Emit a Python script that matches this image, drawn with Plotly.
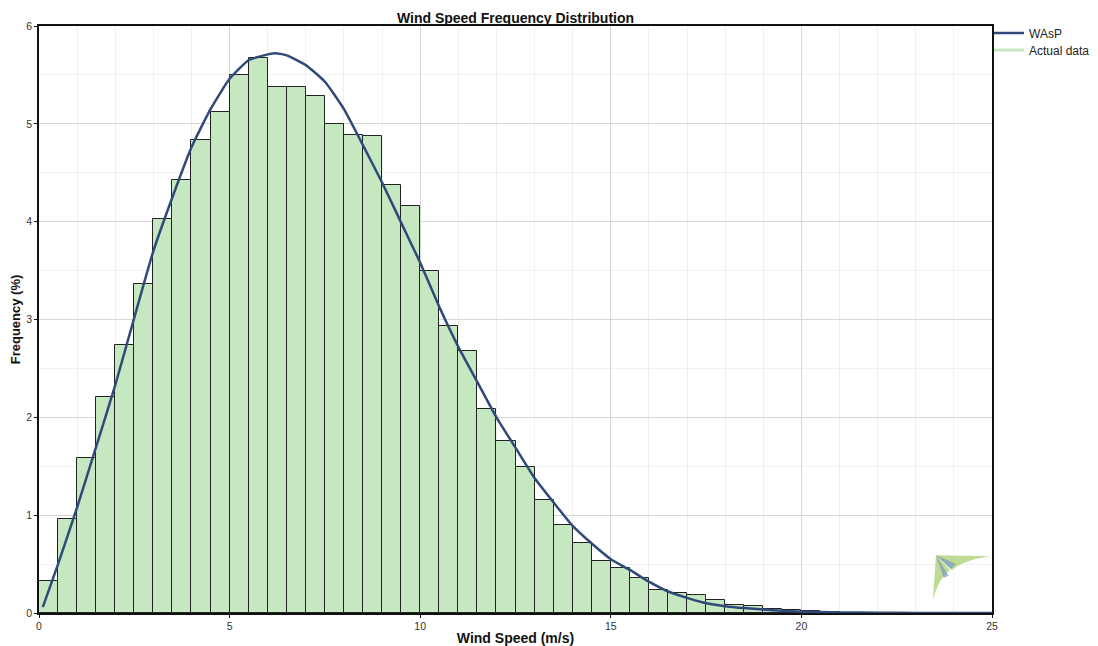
import plotly.graph_objects as go

# ---- data ----
bin_width = 0.5
bin_start = [i * bin_width for i in range(42)]  # 0.0 .. 20.5
actual_freq = [0.33, 0.965, 1.585, 2.21, 2.74, 3.36, 4.03, 4.43, 4.83, 5.12,
               5.50, 5.67, 5.38, 5.38, 5.28, 5.00, 4.89, 4.88, 4.37, 4.16,
               3.50, 2.93, 2.68, 2.09, 1.755, 1.49, 1.16, 0.90, 0.715, 0.53,
               0.46, 0.355, 0.24, 0.205, 0.18, 0.133, 0.085, 0.068, 0.044, 0.034,
               0.02, 0.01]

wasp_x = [0.1, 0.5, 1.0, 1.5, 2.0, 2.5, 3.0, 3.5, 4.0, 4.5, 5.0, 5.5, 6.0, 6.25,
          6.5, 7.0, 7.5, 8.0, 8.5, 9.0, 9.5, 10.0, 10.5, 11.0, 11.5, 12.0, 12.5,
          13.0, 13.5, 14.0, 14.5, 15.0, 15.5, 16.0, 16.5, 17.0, 17.5, 18.0, 18.5,
          19.0, 19.5, 20.0, 21.0, 22.0, 23.0, 24.0, 25.0]
wasp_y = [0.06, 0.50, 1.08, 1.70, 2.33, 3.02, 3.70, 4.25, 4.76, 5.15, 5.46, 5.65, 5.71, 5.72,
          5.70, 5.60, 5.43, 5.15, 4.78, 4.40, 3.99, 3.58, 3.13, 2.72, 2.36, 2.00, 1.69,
          1.38, 1.13, 0.89, 0.71, 0.55, 0.44, 0.32, 0.22, 0.155, 0.10, 0.07, 0.05,
          0.035, 0.022, 0.014, 0.006, 0.003, 0.001, 0.0, 0.0]

x_ticks = [0, 5, 10, 15, 20, 25]
y_ticks = [0, 1, 2, 3, 4, 5, 6]

FONT = "Liberation Sans, Arial, sans-serif"
GREEN = "#c6e8c0"
BLUE = "#2f4a7a"

fig = go.Figure()

fig.add_trace(go.Bar(
    x=[s + bin_width / 2 for s in bin_start],
    y=actual_freq,
    width=bin_width,
    marker=dict(color=GREEN, line=dict(color="#222222", width=1)),
    name="Actual data",
    showlegend=False,
))

fig.add_trace(go.Scatter(
    x=wasp_x, y=wasp_y, mode="lines", name="WAsP",
    line=dict(color=BLUE, width=2.5, shape="spline", smoothing=0.5),
    legend="legend",
))

# legend entry for the bars drawn as a line swatch, like the reference
fig.add_trace(go.Scatter(
    x=[None], y=[None], mode="lines", name="Actual data",
    line=dict(color=GREEN, width=3),
    legend="legend2",
))

# small decorative logo in the lower right corner
logo_paths = [
    ("M 23.53 0.59 L 24.98 0.58 Q 24.3 0.55 23.95 0.44 Z", "rgba(170,205,110,0.75)"),
    ("M 23.53 0.59 L 23.45 0.13 Q 23.6 0.36 23.9 0.44 Z", "rgba(170,205,110,0.75)"),
    ("M 23.53 0.59 L 24.05 0.50 L 23.92 0.45 Z", "rgba(130,160,190,0.8)"),
    ("M 23.53 0.59 L 23.86 0.38 L 23.73 0.36 Z", "rgba(130,160,190,0.8)"),
]
for p, c in logo_paths:
    fig.add_shape(type="path", path=p, xref="x", yref="y",
                  fillcolor=c, line=dict(width=0), layer="above")

# the page places the figure 8px in from the top-left corner
OFF = 8
W, H = 1098 - OFF, 646 - OFF
PLOT_TOP, PLOT_BOTTOM = 26 - OFF, 613 - OFF
PLOT_LEFT, PLOT_RIGHT = 39 - OFF, 992 - OFF
plot_h = PLOT_BOTTOM - PLOT_TOP
plot_w = PLOT_RIGHT - PLOT_LEFT

def legend_at(center_px):
    return dict(x=1.0 - 3 / plot_w, xanchor="left",
                y=(PLOT_BOTTOM - (center_px - OFF)) / plot_h, yanchor="middle",
                font=dict(family=FONT, size=12, color="#222222"),
                bgcolor="rgba(0,0,0,0)", itemwidth=30,
                borderwidth=0)

fig.update_layout(
    width=W, height=H,
    margin=dict(l=PLOT_LEFT, r=W - PLOT_RIGHT, t=PLOT_TOP, b=H - PLOT_BOTTOM,
                autoexpand=False),
    paper_bgcolor="white", plot_bgcolor="white",
    font=dict(family=FONT, size=11, color="#222222"),
    title=dict(text="<b>Wind Speed Frequency Distribution</b>",
               x=(PLOT_LEFT + PLOT_RIGHT) / 2 / W, xanchor="center",
               y=1 - (18 - OFF) / H, yanchor="middle",
               font=dict(family=FONT, size=14, color="#111111")),
    bargap=0,
    showlegend=True,
    legend=legend_at(33),
    legend2=legend_at(50),
    xaxis=dict(
        range=[0, 25], tickvals=x_ticks, ticktext=[str(v) for v in x_ticks],
        showgrid=True, gridcolor="#d6d6d6", gridwidth=1,
        minor=dict(dtick=1, showgrid=True, gridcolor="#f0f0f0", gridwidth=1),
        showline=True, linecolor="#111111", linewidth=1.5, mirror=True,
        ticks="outside", ticklen=3, tickcolor="#111111",
        tickfont=dict(family=FONT, size=10.5, color="#333333"),
        title=dict(text="<b>Wind Speed (m/s)</b>", standoff=4,
                   font=dict(family=FONT, size=14, color="#111111")),
        zeroline=False, automargin=False,
    ),
    yaxis=dict(
        range=[0, 6], tickvals=y_ticks, ticktext=[str(v) for v in y_ticks],
        showgrid=True, gridcolor="#d6d6d6", gridwidth=1,
        minor=dict(dtick=0.5, showgrid=True, gridcolor="#f0f0f0", gridwidth=1),
        showline=True, linecolor="#111111", linewidth=1.5, mirror=True,
        ticks="outside", ticklen=3, tickcolor="#111111",
        tickfont=dict(family=FONT, size=10.5, color="#333333"),
        title=dict(text="<b>Frequency (%)</b>", standoff=6,
                   font=dict(family=FONT, size=13, color="#111111")),
        zeroline=False, automargin=False,
    ),
)

fig.write_html("out.html")
